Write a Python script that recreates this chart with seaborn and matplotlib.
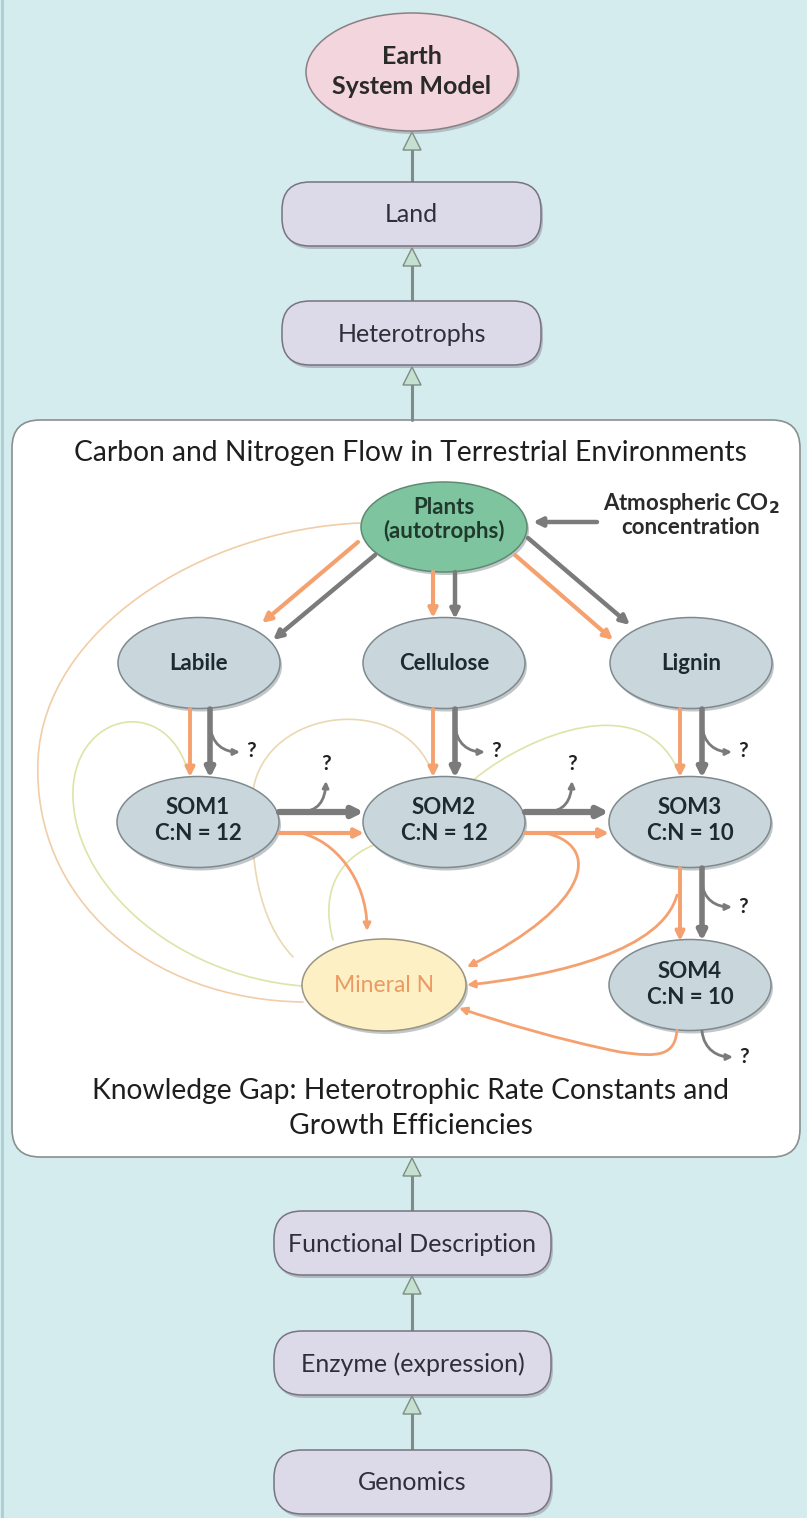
import matplotlib
matplotlib.use("Agg")
import matplotlib.pyplot as plt
import seaborn as sns
from matplotlib.patches import Ellipse, FancyBboxPatch, FancyArrowPatch, Polygon
from matplotlib.path import Path

# text content of the diagram
scale_chain = ["Land", "Heterotrophs", "Functional Description", "Enzyme (expression)", "Genomics"]
top_node = ["Earth", "System Model"]
pool_names = ["Labile", "Cellulose", "Lignin", "SOM1", "SOM2", "SOM3", "SOM4"]
pool_cn = [None, None, None, 12, 12, 10, 10]
title_top = "Carbon and Nitrogen Flow in Terrestrial Environments"
title_bottom = ["Knowledge Gap: Heterotrophic Rate Constants and", "Growth Efficiencies"]
plants_label = ["Plants", "(autotrophs)"]
co2_label = ["Atmospheric CO$_\\mathbf{2}$", "concentration"]

# layout (pixel coordinates, y grows downwards)
chain_y = [214, 333, 1243, 1363, 1482]
chain_x = [(282, 541), (282, 541), (274, 551), (274, 551), (274, 551)]
pool_xy = [(199, 663), (444, 663), (691, 663), (198, 822), (444, 822), (690, 822), (690, 985)]

BG = "#d4ecee"
GRAY = "#7b7b7b"
ORANGE = "#f5a16f"
FONT = "Lato"

sns.set_theme(style="white")
plt.rcParams["font.family"] = [FONT, "DejaVu Sans"]

fig = plt.figure(figsize=(8.07, 15.18), dpi=100, facecolor=BG)
ax = fig.add_axes([0, 0, 1, 1])
ax.set_xlim(0, 807)
ax.set_ylim(1518, 0)
ax.set_facecolor(BG)
ax.axis("off")

ax.plot([2, 2], [0, 1518], color="#a9cfd3", lw=2, zorder=0)


def label(x, y, s, size, bold=False, color="#1f2a30"):
    ax.text(x, y, s, ha="center", va="center_baseline", fontsize=size,
            fontweight="bold" if bold else "normal", color=color, zorder=5)


def ellipse(xy, w, h, face, edge="#7f8a8f"):
    sh = Ellipse((xy[0] + 2, xy[1] + 3), w, h, facecolor="#8f999e", edgecolor="none", alpha=0.55, zorder=3)
    ax.add_patch(sh)
    e = Ellipse(xy, w, h, facecolor=face, edgecolor=edge, lw=1.1, zorder=3.1)
    ax.add_patch(e)


def pill(x0, x1, yc, text):
    h = 64
    sh = FancyBboxPatch((x0 + 2, yc - h / 2 + 3), x1 - x0, h, boxstyle="round,pad=0,rounding_size=28",
                        facecolor="#8e8a99", edgecolor="none", alpha=0.5, zorder=3)
    ax.add_patch(sh)
    b = FancyBboxPatch((x0, yc - h / 2), x1 - x0, h, boxstyle="round,pad=0,rounding_size=28",
                       facecolor="#dcd9e9", edgecolor="#77737f", lw=1.1, zorder=3.1)
    ax.add_patch(b)
    label((x0 + x1) / 2, yc - 1, text, 18, color="#2f2f3a")


def up_arrow(y_bottom, y_top, x=412):
    ax.plot([x, x], [y_bottom, y_top + 14], color="#7f8c86", lw=2.2, zorder=2)
    tri = Polygon([(x, y_top + 1), (x - 9, y_top + 19), (x + 9, y_top + 19)], closed=True,
                  facecolor="#c6e0d0", edgecolor="#7f8c86", lw=1.0, zorder=2.5)
    ax.add_patch(tri)


def straight(a, b, color, lw, ms=13):
    ax.add_patch(FancyArrowPatch(a, b, arrowstyle="-|>", mutation_scale=ms, color=color, lw=lw,
                                 shrinkA=0, shrinkB=0, zorder=4))


def curve(pts, color, lw, head=True, ms=11, z=4):
    codes = [Path.MOVETO] + [Path.CURVE4] * (len(pts) - 1)
    style = "-|>" if head else "-"
    ax.add_patch(FancyArrowPatch(path=Path(pts, codes), arrowstyle=style, mutation_scale=ms,
                                 color=color, lw=lw, zorder=z))


def qmark(x, y):
    label(x, y, "?", 15, bold=True, color="#222")


# outer chain: Earth System Model and the scale boxes
ellipse((412, 72), 212, 118, "#f3d5dd", edge="#8a7f83")
label(412, 54, top_node[0], 18, bold=True, color="#2a2a2a")
label(412, 85, top_node[1], 18, bold=True, color="#2a2a2a")
for lab, yc, (x0, x1) in zip(scale_chain, chain_y, chain_x):
    pill(x0, x1, yc, lab)

up_arrow(182, 131)
up_arrow(301, 247)
up_arrow(420, 366)
up_arrow(1211, 1157)
up_arrow(1331, 1275)
up_arrow(1450, 1395)

# white panel
panel = FancyBboxPatch((12, 420), 788, 737, boxstyle="round,pad=0,rounding_size=28",
                       facecolor="white", edgecolor="#8a8f90", lw=1.2, zorder=1)
ax.add_patch(panel)
label(410, 450, title_top, 20.3, color="#1e1e1e")
label(411, 1089, title_bottom[0], 20.3, color="#1e1e1e")
label(411, 1123, title_bottom[1], 20.3, color="#1e1e1e")

# faint nitrogen uptake lines from Mineral N
TAN = "#f1cda8"
GREENISH = "#dfe3a8"
curve([(303, 1002), (150, 1000), (32, 900), (38, 760),
       (44, 630), (200, 530), (360, 523)], TAN, 1.2, head=False, z=2)
curve([(302, 986), (170, 975), (70, 880), (73, 790),
       (76, 715), (160, 695), (186, 765)], GREENISH, 1.2, head=False, z=2)
curve([(293, 957), (258, 920), (250, 860), (252, 800),
       (256, 710), (395, 690), (430, 767)], "#ead8b2", 1.2, head=False, z=2)
curve([(333, 940), (318, 885), (345, 850), (390, 840),
       (430, 830), (450, 800), (477, 777),
       (530, 735), (640, 690), (677, 768)], GREENISH, 1.2, head=False, z=2)

# nodes
ellipse((444, 527), 166, 90, "#7ec49f", edge="#5f8a72")
label(444, 505, plants_label[0], 16, bold=True, color="#1f3a2c")
label(444, 529, plants_label[1], 16, bold=True, color="#1f3a2c")
label(691, 501, co2_label[0], 16, bold=True, color="#2a2a2a")
label(691, 526, co2_label[1], 16, bold=True, color="#2a2a2a")

for name, cn, xy in zip(pool_names, pool_cn, pool_xy):
    ellipse(xy, 162, 91, "#c9d7dd")
    if cn is None:
        label(xy[0], xy[1] - 1, name, 16, bold=True)
    else:
        label(xy[0], xy[1] - 16, name, 16, bold=True)
        label(xy[0], xy[1] + 10, f"C:N = {cn}", 16, bold=True)

ellipse((384, 985), 164, 92, "#fcf0c4", edge="#9a9480")
label(384, 983, "Mineral N", 16.5, color="#ec9a64")

# flows from plants
straight((597, 522), (533, 522), GRAY, 3.2)
straight((358, 542), (262, 623), ORANGE, 3.0)
straight((375, 555), (273, 640), GRAY, 3.2)
straight((433, 572), (433, 618), ORANGE, 3.0)
straight((455, 572), (455, 619), GRAY, 3.2)
straight((528, 538), (630, 625), GRAY, 3.2)
straight((515, 555), (613, 640), ORANGE, 3.0)

# litter to SOM, SOM cascade
for xo, xg in [(190, 210), (433, 455), (680, 702)]:
    straight((xo, 709), (xo, 777), ORANGE, 2.8)
    straight((xg, 709), (xg, 778), GRAY, 4.0)
    curve([(xg, 722), (xg, 745), (xg + 15, 752), (xg + 30, 752)], GRAY, 2.0, ms=9)
    qmark(xg + 41, 749)

for x0, x1 in [(279, 364), (525, 609)]:
    straight((x0, 812), (x1, 812), GRAY, 4.5, ms=15)
    straight((x0, 833), (x1, 833), ORANGE, 3.0)
    curve([(x0 + 20, 812), (x0 + 40, 812), (x0 + 46, 800), (x0 + 47, 781)], GRAY, 2.0, ms=9)
    qmark(x0 + 47, 762)

straight((680, 868), (680, 941), ORANGE, 2.8)
straight((702, 868), (702, 941), GRAY, 4.0)
curve([(702, 880), (702, 900), (717, 907), (732, 907)], GRAY, 2.0, ms=9)
qmark(743, 905)
curve([(702, 1031), (704, 1050), (718, 1057), (733, 1057)], GRAY, 2.0, ms=9)
qmark(744, 1055)

# mineralisation flows into Mineral N
curve([(300, 833), (335, 840), (367, 880), (367, 931)], ORANGE, 2.0)
curve([(545, 833), (602, 845), (592, 905), (467, 967)], ORANGE, 2.0)
curve([(677, 895), (662, 950), (560, 975), (467, 985)], ORANGE, 2.0)
curve([(677, 1030), (675, 1055), (660, 1058), (620, 1052),
       (560, 1040), (500, 1022), (459, 1008)], ORANGE, 2.0)

fig.savefig("out.png", dpi=100, facecolor=BG)
